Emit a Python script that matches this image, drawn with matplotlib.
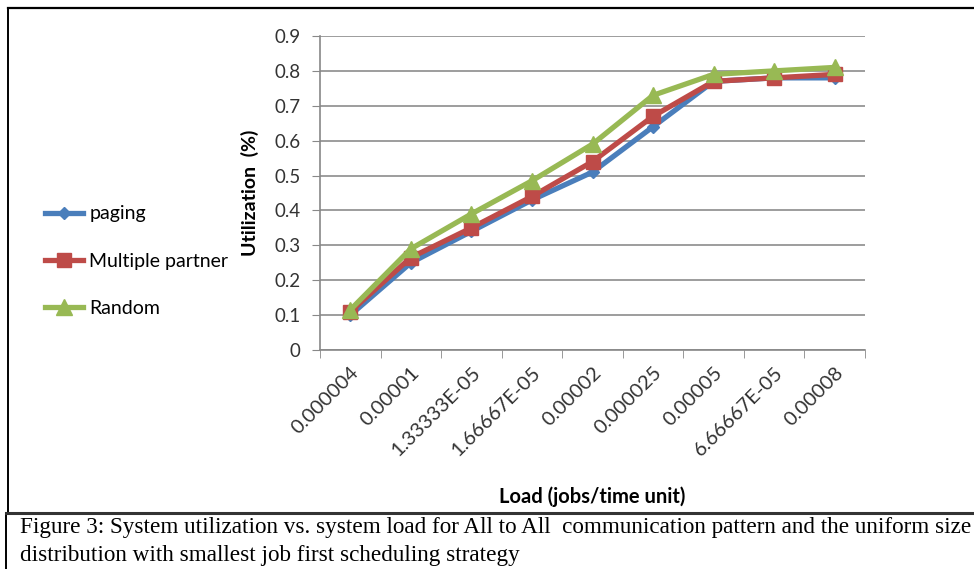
import matplotlib
matplotlib.use("Agg")
import matplotlib.pyplot as plt
from matplotlib.lines import Line2D

loads = ['0.000004', '0.00001', '1.33333E-05', '1.66667E-05', '0.00002',
         '0.000025', '0.00005', '6.66667E-05', '0.00008']
paging = [0.10, 0.25, 0.34, 0.43, 0.51, 0.64, 0.77, 0.78, 0.78]
multiple_partner = [0.11, 0.265, 0.35, 0.44, 0.54, 0.67, 0.77, 0.78, 0.79]
random_ = [0.115, 0.29, 0.39, 0.485, 0.59, 0.73, 0.79, 0.80, 0.81]

W, H = 974, 569
fig = plt.figure(figsize=(W / 100, H / 100), dpi=100)
plt.rcParams['font.family'] = ['Lato', 'DejaVu Sans']

ax = fig.add_axes([320 / W, 1 - 350 / H, (865 - 320) / W, (350 - 36) / H])
x = range(len(loads))
ax.plot(x, paging, color='#4A7EBB', lw=3.8, marker='D', ms=6, label='paging')
ax.plot(x, multiple_partner, color='#BE4B48', lw=3.8, marker='s', ms=10,
        label='Multiple partner')
ax.plot(x, random_, color='#98B954', lw=3.8, marker='^', ms=11, label='Random')

ax.set_xlim(-0.5, len(loads) - 0.5)
ax.set_ylim(0, 0.9)
ax.set_yticks([i / 10 for i in range(10)])
ax.set_yticklabels(['0'] + ['0.%d' % i for i in range(1, 10)], fontsize=13.5, color='#333333')
ax.set_xticks(list(x))
ax.set_xticklabels(loads, rotation=45, ha='right', va='top', rotation_mode='anchor',
                   fontsize=14.5, color='#333333')
ax.set_xticks([i - 0.5 for i in range(len(loads) + 1)], minor=True)
ax.tick_params(axis='x', which='major', length=0, pad=10)
ax.tick_params(axis='x', which='minor', length=6, color='#888888', direction='out')
ax.tick_params(axis='y', length=6, color='#888888', pad=8)
ax.grid(axis='y', color='#8c8c8c', lw=1.2)
ax.set_axisbelow(True)
for s in ['top', 'right']:
    ax.spines[s].set_visible(False)
for s in ['left', 'bottom']:
    ax.spines[s].set_color('#888888')
    ax.spines[s].set_linewidth(1.2)

ax.set_ylabel('Utilization  (%)', fontsize=14, fontweight='bold')
ax.set_xlabel('Load (jobs/time unit)', fontsize=14.5, fontweight='bold')
ax.yaxis.set_label_coords(-0.112, 0.5)
ax.xaxis.set_label_coords(0.5, -0.436)

fig.legend(loc='center left', bbox_to_anchor=(27 / W, 1 - 261 / H), frameon=False,
           fontsize=14, handlelength=2.0, labelspacing=1.55, handletextpad=0.3)

# frame lines around the figure and caption
fig.add_artist(Line2D([8 / W, 1], [1 - 8 / H, 1 - 8 / H], color='black', lw=1.6))
fig.add_artist(Line2D([8 / W, 8 / W], [1 - 8 / H, 1 - 514 / H], color='black', lw=1.4))
fig.add_artist(Line2D([6 / W, 6 / W], [1 - 514 / H, 0], color='black', lw=1.4))
fig.add_artist(Line2D([6 / W, 1], [1 - 513 / H, 1 - 513 / H], color='#333333', lw=2.2))

cap1 = ('Figure 3: System utilization vs. system load for All to All  '
        'communication pattern and the uniform size')
cap2 = 'distribution with smallest job first scheduling strategy'
fig.text(20 / W, 1 - 528 / H, cap1, family='Liberation Serif', fontsize=16.7,
         va='center', ha='left')
fig.text(20 / W, 1 - 556 / H, cap2, family='Liberation Serif', fontsize=16.7,
         va='center', ha='left')

fig.savefig('out.png', dpi=100)
